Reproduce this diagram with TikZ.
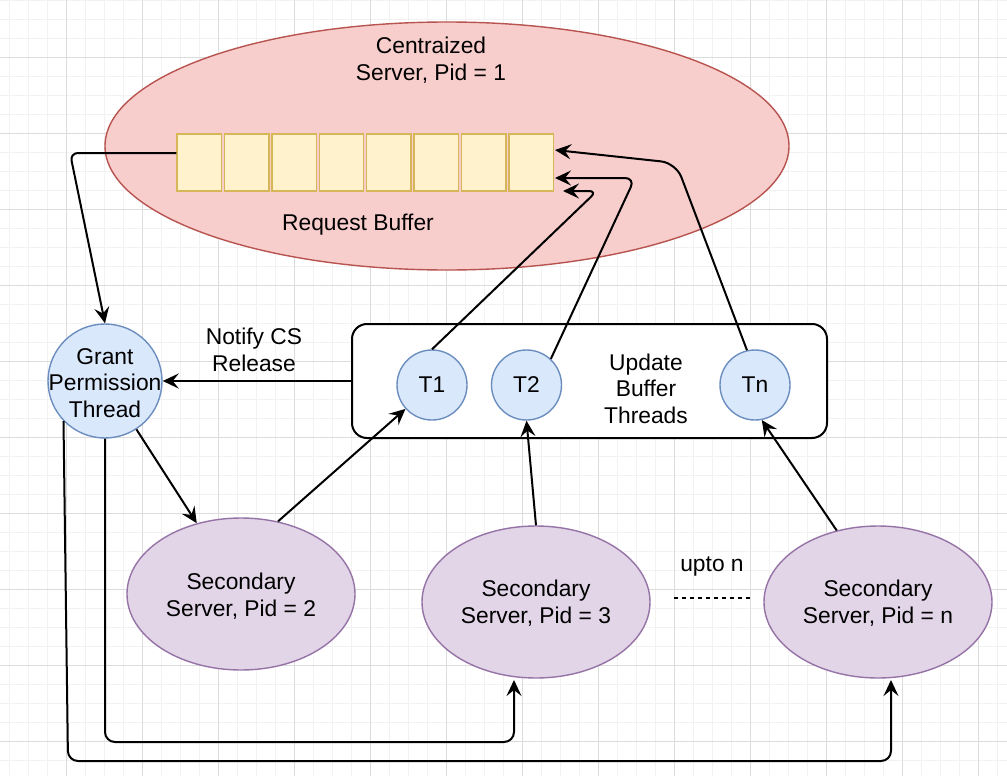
\documentclass[tikz,border=0pt]{standalone}
\usepackage{fontspec}
\setmainfont{Liberation Sans}
\usetikzlibrary{arrows.meta,shapes.geometric}
\definecolor{redfill}{HTML}{F8CECC}
\definecolor{redstroke}{HTML}{B85450}
\definecolor{yelfill}{HTML}{FFF2CC}
\definecolor{yelstroke}{HTML}{D6B656}
\definecolor{bluefill}{HTML}{DAE8FC}
\definecolor{bluestroke}{HTML}{6C8EBF}
\definecolor{purfill}{HTML}{E1D5E7}
\definecolor{purstroke}{HTML}{9673A6}
\definecolor{gridmajor}{HTML}{DCDCDC}
\definecolor{gridminor}{HTML}{F2F2F2}
\begin{document}
\begin{tikzpicture}[x=1pt,y=-1pt,
  font=\fontsize{22.8}{26.5}\selectfont,
  conn/.style={draw=black, line width=2pt, -{Stealth[length=16pt,width=15pt,inset=6pt]}},
  buf/.style={draw=yelstroke, fill=yelfill, line width=1.4pt, minimum width=44.5pt, minimum height=57pt, inner sep=0pt},
  thread/.style={circle, draw=bluestroke, fill=bluefill, line width=1.4pt, minimum size=70pt, inner sep=0pt},
  secondary/.style={ellipse, draw=purstroke, fill=purfill, line width=1.4pt, minimum width=228pt, minimum height=152pt, inner sep=0pt},
  label/.style={align=center, inner sep=0pt}]
\useasboundingbox (0,0) rectangle (1007,776);
\fill[white] (0,0) rectangle (1007,776);
% grid
\foreach \i in {0,...,52} {\draw[gridminor, line width=1pt] ({9.3+19*\i},0) -- ({9.3+19*\i},776);}
\foreach \i in {0,...,40} {\draw[gridminor, line width=1pt] (0,{0.3+19*\i}) -- (1007,{0.3+19*\i});}
\foreach \i in {0,...,12} {\draw[gridmajor, line width=1pt] ({66.7+76*\i},0) -- ({66.7+76*\i},776);}
\foreach \i in {0,...,9} {\draw[gridmajor, line width=1pt] (0,{57.3+76*\i}) -- (1007,{57.3+76*\i});}

% central server
\node[ellipse, draw=redstroke, fill=redfill, line width=1.4pt, minimum width=684pt, minimum height=248pt, inner sep=0pt] (cs) at (447,146) {};
\node[label] (cslabel) at (431,60) {Centraized\\Server, Pid = 1};
\foreach \i in {0,...,7} {\node[buf] (b\i) at ({199.25+47.4*\i},162.5) {};}
\node[label] (rb) at (358,225) {Request Buffer};

% grant permission thread
\node[circle, draw=bluestroke, fill=bluefill, line width=1.4pt, minimum size=114pt, inner sep=0pt] (grant) at (105,381) {};
\node[label] (grantlabel) at (105,383) {Grant\\Permission\\Thread};

% update buffer threads
\node[draw=black, fill=white, line width=2pt, rounded corners=15pt, minimum width=475pt, minimum height=114pt, inner sep=0pt] (ubt) at (589.5,381) {};
\node[thread] (t1) at (432,385) {T1};
\node[thread] (t2) at (526.5,385) {T2};
\node[thread] (tn) at (755,385) {Tn};
\node[label] (ubtlabel) at (646,388.5) {Update\\Buffer\\Threads};
\node[label] (notify) at (254,350) {Notify CS\\Release};

% secondary servers
\node[secondary] (s2) at (241,594) {};
\node[secondary] (s3) at (536,602) {};
\node[secondary] (sn) at (878,602) {};
\node[label] (s2label) at (241,596) {Secondary\\Server, Pid = 2};
\node[label] (s3label) at (536,603) {Secondary\\Server, Pid = 3};
\node[label] (snlabel) at (878,603) {Secondary\\Server, Pid = n};
\node[label] (upto) at (712,566) {upto n};
\coordinate (d1) at (674,598);
\coordinate (d2) at (750,598);
\draw[black, line width=1.4pt, dash pattern=on 4pt off 4pt] (d1) -- (d2);

% waypoints
\coordinate (w0) at (70,153);
\coordinate (w1a) at (597,191);
\coordinate (e1) at (563,191);
\coordinate (w2a) at (635,178);
\coordinate (e2) at (555,178);
\coordinate (w3a) at (676,163);
\coordinate (e3) at (555,150);
\coordinate (g3a) at (105,742);
\coordinate (g3b) at (514,742);
\coordinate (e4) at (514,680);
\coordinate (g4a) at (68,761);
\coordinate (g4b) at (891,761);
\coordinate (e5) at (891,680);

% connectors
\draw[conn, rounded corners=8pt] ([yshift=9.5pt]b0.west) -- (w0) -- (grant.north);
\draw[conn] (ubt.west) -- (grant.east);
\draw[conn, rounded corners=8pt] (t1.north) -- (w1a) -- (e1);
\draw[conn, rounded corners=10pt] (t2.47) -- (w2a) -- (e2);
\draw[conn, rounded corners=15pt] (tn.103) -- (w3a) -- (e3);
\draw[conn] (s2.63) -- (t1.222);
\draw[conn] (s3.north) -- (t2.south);
\draw[conn] (sn.120) -- (tn.281);
\draw[conn] (grant.303) -- (s2.122);
\draw[conn, rounded corners=10pt] (grant.south) -- (g3a) -- (g3b) -- (e4);
\draw[conn, rounded corners=10pt] (grant.224) -- (g4a) -- (g4b) -- (e5);
\end{tikzpicture}
\end{document}
